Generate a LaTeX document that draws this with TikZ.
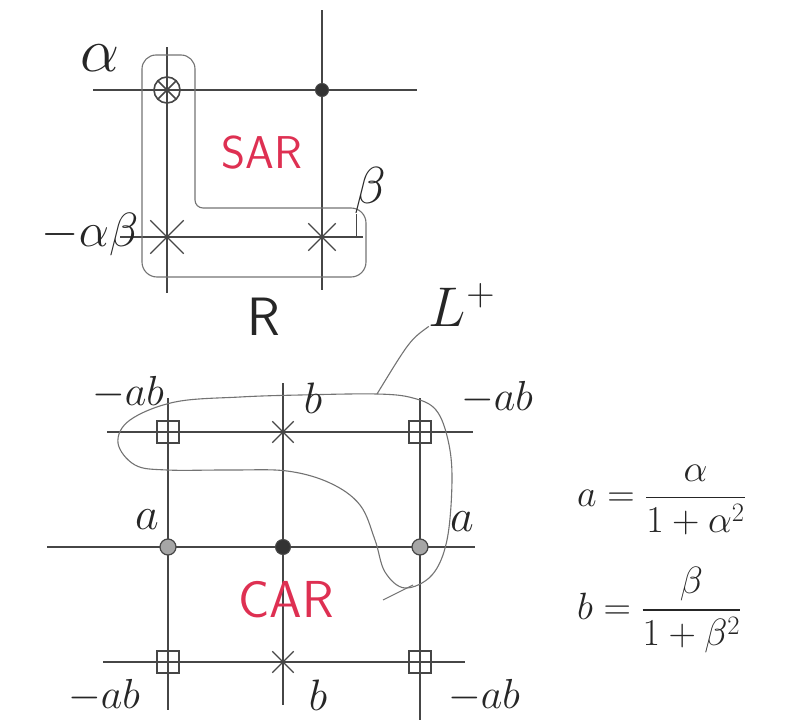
\RequirePackage{fix-cm}
\documentclass[tikz,border=0pt]{standalone}
\usepackage{amsmath,amssymb}
\usepackage{tikz}
\usetikzlibrary{shapes.misc}
\usepackage{xcolor}

\begin{document}
\begin{tikzpicture}[x=1pt,y=-1pt,
  gridline/.style={draw=gridgray,line width=1.5pt},
  loopline/.style={draw=loopgray,line width=1.1pt},
  bigcross/.style={draw=gridgray,line width=1.4pt,cross out,minimum size=32pt,inner sep=0pt},
  smallcross/.style={draw=gridgray,line width=1.3pt,cross out,minimum size=20pt,inner sep=0pt},
  boxmark/.style={draw=gridgray,line width=1.3pt,minimum size=22pt,inner sep=0pt},
  ringmark/.style={circle,draw=gridgray,fill=black!35,line width=1.2pt,minimum size=16pt,inner sep=0pt},
  dotmark/.style={circle,draw=gridgray,fill=black!80,line width=1pt,minimum size=15pt,inner sep=0pt},
  lbl/.style={inner sep=1pt,text=black!85},
  redlbl/.style={inner sep=1pt,text=sarred,font=\sffamily\fontsize{46}{50}\selectfont}]
\definecolor{gridgray}{RGB}{70,70,70}
\definecolor{loopgray}{RGB}{115,115,115}
\definecolor{sarred}{RGB}{222,48,82}
\useasboundingbox (0,0) rectangle (809,720);

% upper grid (SAR)
\draw[gridline] (93,90) -- (417,90);
\draw[gridline] (120,237) -- (363,237);
\draw[gridline] (167,47) -- (167,293);
\draw[gridline] (322,10) -- (322,290);
\node[circle,draw=gridgray,line width=1.6pt,minimum size=26pt,inner sep=0pt,
  path picture={\draw[gridgray,line width=1.6pt]
    (path picture bounding box.north west) -- (path picture bounding box.south east)
    (path picture bounding box.south west) -- (path picture bounding box.north east);}]
  (s11) at (167,90) {};
\node[dotmark,minimum size=13pt] (s12) at (322,90) {};
\node[bigcross] (s21) at (167,237) {};
\node[smallcross,minimum size=26pt] (s22) at (322,237) {};
\draw[loopline,rounded corners=8pt] (195,120) -- (195,208) -- (340,208)
  [rounded corners=15pt] -- (366,208) -- (366,277) -- (142,277)
  [rounded corners=14pt] -- (142,55) -- (195,55) -- cycle;
\node[redlbl] (sar) at (262,153) {SAR};
\node[lbl,font=\fontsize{62}{66}\selectfont] (alab) at (100,58) {$\alpha$};
\node[lbl,font=\fontsize{48}{52}\selectfont] (mab) at (90,234) {$-\alpha\beta$};
\node[lbl,font=\fontsize{52}{56}\selectfont] (blab) at (370,190) {$\beta$};
\coordinate (btick) at (356,237);
\draw[gridline,line width=1pt] (btick |- blab.south) -- (btick);
\node[lbl,font=\sffamily\fontsize{54}{58}\selectfont] (rlab) at (264,317) {R};

% lower grid (CAR)
\draw[gridline] (107,432) -- (473,432);
\draw[gridline] (47,547) -- (475,547);
\draw[gridline] (103,662) -- (465,662);
\draw[gridline] (168,398) -- (168,710);
\draw[gridline] (283,383) -- (283,705);
\draw[gridline] (420,398) -- (420,720);
\node[boxmark] (c11) at (168,432) {};
\node[smallcross] (c12) at (283,432) {};
\node[boxmark] (c13) at (420,432) {};
\node[ringmark] (c21) at (168,547) {};
\node[dotmark] (c22) at (283,547) {};
\node[ringmark] (c23) at (420,547) {};
\node[boxmark] (c31) at (168,662) {};
\node[smallcross] (c32) at (283,662) {};
\node[boxmark] (c33) at (420,662) {};
\draw[loopline] plot[smooth cycle,tension=0.6] coordinates {(377,394) (300,395) (240,397)
  (175,402) (130,420) (118,443) (135,465) (167,470) (230,470) (287,471) (330,483)
  (360,505) (375,540) (385,572) (405,588) (432,575) (447,540) (452,480) (448,440)
  (436,410) (413,398)};
\draw[loopline] (413,585) -- (383,600);
\node[redlbl,font=\sffamily\fontsize{52}{56}\selectfont] (car) at (286,600) {CAR};
\node[lbl,font=\fontsize{56}{60}\selectfont,inner sep=0pt] (lplus) at (462,305) {$L^{+}$};
\coordinate (ltouch) at (377,394);
\draw[loopline] (lplus.south west) .. controls (410,340) .. (ltouch);
\node[lbl,font=\fontsize{42}{46}\selectfont] (ab11) at (128,393) {$-ab$};
\node[lbl,font=\fontsize{44}{48}\selectfont] (b12) at (313,398) {$b$};
\node[lbl,font=\fontsize{42}{46}\selectfont] (ab13) at (497,398) {$-ab$};
\node[lbl,font=\fontsize{46}{50}\selectfont] (a21) at (147,520) {$a$};
\node[lbl,font=\fontsize{46}{50}\selectfont] (a23) at (462,522) {$a$};
\node[lbl,font=\fontsize{42}{46}\selectfont] (ab31) at (104,696) {$-ab$};
\node[lbl,font=\fontsize{44}{48}\selectfont] (b32) at (318,695) {$b$};
\node[lbl,font=\fontsize{42}{46}\selectfont] (ab33) at (484,696) {$-ab$};

% formulas
\node[lbl,anchor=west,font=\fontsize{38}{42}\selectfont] (fa) at (576,500)
  {$a=\dfrac{\alpha}{1+\alpha^{2}}$};
\node[lbl,anchor=west,font=\fontsize{38}{42}\selectfont] (fb) at (576,610)
  {$b=\dfrac{\beta}{1+\beta^{2}}$};
\end{tikzpicture}
\end{document}
